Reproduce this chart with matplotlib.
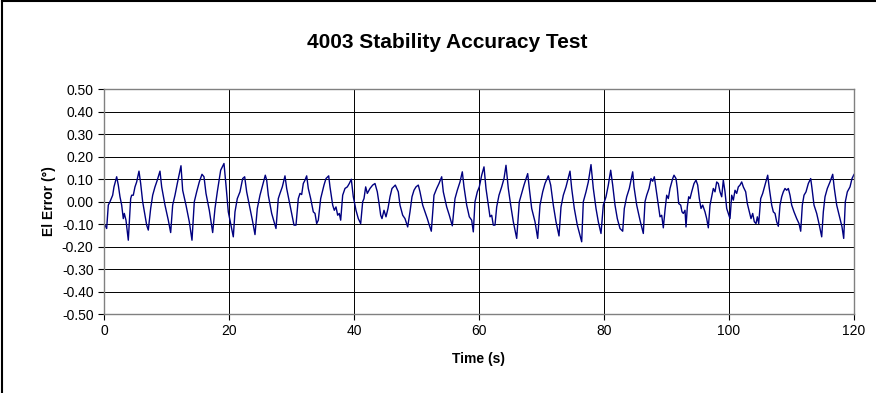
import matplotlib
matplotlib.use("Agg")
import matplotlib.pyplot as plt
from matplotlib.lines import Line2D

plt.rc("font", family=["Liberation Sans", "DejaVu Sans"])

# time (s) and elevation error (deg)
time = [0.00, 0.16, 0.43, 0.69, 0.96, 1.39, 1.60, 2.03, 2.29, 2.56, 2.83, 3.09, 3.25, 3.52, 3.89,
        4.27, 4.43, 4.69, 4.96, 5.23, 5.60, 5.87, 6.19, 6.56, 6.83, 7.09, 7.47, 7.79, 8.16, 8.53,
        8.96, 9.23, 9.76, 10.29, 10.67, 10.99, 11.36, 11.73, 12.32, 12.59, 13.12, 13.65, 14.08,
        14.45, 14.83, 15.25, 15.68, 16.00, 16.32, 16.85, 17.39, 17.76, 18.13, 18.67, 19.20, 19.52,
        19.89, 20.27, 20.69, 20.96, 21.33, 21.76, 22.19, 22.51, 22.83, 23.36, 23.79, 24.16, 24.53,
        24.96, 25.39, 25.81, 26.03, 26.29, 26.83, 27.52, 27.89, 28.16, 28.53, 28.96, 29.23, 29.76,
        30.40, 30.72, 31.09, 31.36, 31.63, 31.89, 32.16, 32.43, 32.69, 33.07, 33.49, 33.76, 34.03,
        34.29, 34.67, 34.93, 35.20, 35.52, 35.95, 36.16, 36.59, 36.85, 37.12, 37.39, 37.65, 37.87,
        38.19, 38.56, 38.93, 39.25, 39.57, 39.89, 40.32, 40.69, 41.07, 41.39, 41.60, 41.87, 42.13,
        42.56, 42.99, 43.36, 43.73, 44.05, 44.27, 44.48, 44.80, 45.12, 45.44, 45.76, 46.08, 46.61,
        47.09, 47.36, 47.79, 48.16, 48.59, 48.96, 49.28, 49.60, 49.92, 50.29, 50.56, 50.99, 51.36,
        51.73, 52.05, 52.37, 52.80, 53.23, 53.60, 54.03, 54.29, 54.83, 55.25, 55.73, 56.16, 56.53,
        56.96, 57.33, 57.60, 58.03, 58.45, 58.83, 59.09, 59.36, 59.73, 60.05, 60.43, 60.80, 61.12,
        61.49, 61.76, 62.03, 62.29, 62.56, 62.83, 63.20, 63.63, 64.00, 64.32, 64.69, 65.07, 65.49,
        66.03, 66.45, 66.83, 67.20, 67.79, 68.05, 68.43, 68.96, 69.39, 69.76, 70.19, 70.56, 71.09,
        71.47, 71.89, 72.32, 72.80, 73.12, 73.49, 73.92, 74.56, 74.83, 75.25, 75.73, 76.43, 76.69,
        77.12, 77.49, 77.92, 78.29, 78.72, 79.09, 79.52, 79.89, 80.32, 80.69, 81.07, 81.39, 81.76,
        82.13, 82.56, 82.99, 83.25, 83.63, 84.05, 84.59, 84.80, 85.23, 85.76, 86.29, 86.56, 86.83,
        87.20, 87.52, 87.79, 88.05, 88.32, 88.69, 88.96, 89.23, 89.49, 89.76, 90.03, 90.29, 90.56,
        90.99, 91.20, 91.52, 91.73, 91.95, 92.27, 92.48, 92.69, 92.96, 93.12, 93.33, 93.55, 93.76,
        94.03, 94.40, 94.72, 94.99, 95.25, 95.52, 95.79, 96.16, 96.43, 96.69, 96.96, 97.23, 97.49,
        97.76, 98.03, 98.29, 98.56, 98.83, 99.09, 99.36, 99.63, 99.89, 100.16, 100.43, 100.69,
        100.96, 101.23, 101.49, 101.76, 102.03, 102.29, 102.67, 102.93, 103.25, 103.52, 103.79,
        104.05, 104.32, 104.53, 104.75, 105.07, 105.39, 105.76, 106.19, 106.45, 106.83, 107.09,
        107.36, 107.63, 107.89, 108.16, 108.43, 108.69, 108.96, 109.23, 109.49, 109.76, 110.03,
        110.40, 110.83, 111.20, 111.47, 111.73, 112.00, 112.32, 112.69, 113.07, 113.28, 113.60,
        114.03, 114.45, 114.83, 115.09, 115.36, 115.73, 116.16, 116.59, 116.85, 117.23, 117.55,
        117.87, 118.08, 118.35, 118.61, 118.93, 119.36, 119.68, 120.00]

el_error = [-0.100, -0.105, -0.120, -0.016, -0.001, 0.028, 0.065, 0.110, 0.073, 0.021, -0.016, -0.076, -0.053, -0.083, -0.172,
            0.013, 0.028, 0.028, 0.065, 0.087, 0.135, 0.080, -0.001, -0.061, -0.105, -0.127, -0.031, 0.028, 0.065, 0.095,
            0.135, 0.065, -0.016, -0.083, -0.138, -0.016, 0.028, 0.080, 0.159, 0.050, -0.016, -0.090, -0.172,
            -0.001, 0.043, 0.087, 0.121, 0.110, 0.036, -0.039, -0.138, -0.031, 0.043, 0.139, 0.169, 0.073,
            -0.046, -0.098, -0.157, -0.046, 0.013, 0.043, 0.102, 0.110, 0.043, -0.031, -0.090, -0.147, -0.031,
            0.028, 0.073, 0.117, 0.095, 0.028, -0.053, -0.120, 0.013, 0.036, 0.065, 0.114, 0.058, -0.016,
            -0.105, -0.105, 0.013, 0.036, 0.031, 0.080, 0.095, 0.114, 0.058, 0.013, -0.046, -0.053, -0.098,
            -0.083, 0.013, 0.043, 0.073, 0.102, 0.114, 0.065, -0.016, -0.039, -0.024, -0.061, -0.053, -0.083,
            0.028, 0.058, 0.065, 0.080, 0.099, 0.021, -0.039, -0.076, -0.098, -0.001, 0.013, 0.065, 0.036,
            0.058, 0.073, 0.080, 0.043, -0.016, -0.061, -0.076, -0.039, -0.068, -0.031, 0.021, 0.058, 0.073,
            0.043, -0.016, -0.061, -0.076, -0.113, -0.046, 0.021, 0.050, 0.065, 0.073, 0.043, -0.016, -0.046,
            -0.076, -0.105, -0.132, 0.028, 0.058, 0.080, 0.110, 0.043, -0.024, -0.061, -0.108, 0.013, 0.050,
            0.087, 0.132, 0.065, -0.016, -0.068, -0.083, -0.135, -0.001, 0.043, 0.065, 0.117, 0.154, 0.058,
            -0.016, -0.068, -0.061, -0.105, -0.105, -0.024, 0.028, 0.065, 0.102, 0.161, 0.058, -0.016, -0.090,
            -0.164, -0.001, 0.036, 0.073, 0.124, 0.058, -0.031, -0.090, -0.164, -0.016, 0.043, 0.080, 0.114,
            0.073, -0.016, -0.090, -0.153, -0.024, 0.028, 0.065, 0.135, 0.058, -0.031, -0.105, -0.179, -0.001,
            0.043, 0.087, 0.164, 0.058, -0.031, -0.090, -0.142, -0.016, 0.021, 0.073, 0.139, 0.073, -0.016,
            -0.076, -0.120, -0.132, -0.031, 0.021, 0.058, 0.132, 0.065, -0.016, -0.083, -0.142, -0.001, 0.028,
            0.058, 0.102, 0.090, 0.110, 0.058, -0.016, -0.068, -0.061, -0.117, -0.039, 0.028, 0.013, 0.058,
            0.102, 0.117, 0.102, 0.058, -0.009, -0.016, -0.046, -0.053, -0.039, -0.113, -0.024, 0.021, 0.013,
            0.043, 0.080, 0.095, 0.073, 0.013, -0.031, -0.016, -0.046, -0.076, -0.117, -0.016, 0.021, 0.058,
            0.043, 0.087, 0.080, 0.043, 0.021, 0.095, 0.043, -0.031, -0.053, -0.076, 0.028, 0.006,
            0.050, 0.036, 0.065, 0.073, 0.087, 0.065, 0.043, -0.009, -0.046, -0.076, -0.053,
            -0.090, -0.098, -0.068, -0.098, 0.013, 0.036, 0.073, 0.117, 0.058, -0.016, -0.046,
            -0.053, -0.090, -0.110, -0.016, 0.021, 0.043, 0.058, 0.050, 0.058, 0.028, -0.016,
            -0.046, -0.076, -0.098, -0.132, -0.016, 0.028, 0.043, 0.080, 0.102, 0.058, -0.016,
            -0.053, -0.105, -0.157, -0.046, 0.021, 0.058, 0.087, 0.121, 0.058, -0.016, -0.053,
            -0.090, -0.113, -0.164, -0.001, 0.043, 0.065, 0.102, 0.120]

x_ticks = [0, 20, 40, 60, 80, 100, 120]
y_ticks = [-0.5, -0.4, -0.3, -0.2, -0.1, 0.0, 0.1, 0.2, 0.3, 0.4, 0.5]

fig = plt.figure(figsize=(8.76, 3.93), dpi=100)
ax = fig.add_axes([0.1187, 0.2010, 0.8562, 0.5725])

ax.plot(time, el_error, color="#000080", lw=1.0)

ax.set_xlim(0, 120)
ax.set_ylim(-0.5, 0.5)
ax.set_xticks(x_ticks)
ax.set_yticks(y_ticks)
ax.set_yticklabels(["%.2f" % v for v in y_ticks])
ax.grid(True, color="black", lw=0.7)
ax.set_axisbelow(True)
for s in ax.spines.values():
    s.set_color("#808080")
    s.set_linewidth(1.0)
ax.tick_params(labelsize=10, length=4, width=0.8, color="black", direction="out")

# chart title is centred over the whole chart area, not just the plot
fig.text(0.51, 0.893, "4003 Stability Accuracy Test", fontsize=15, fontweight="bold",
         ha="center", va="center")
ax.set_xlabel("Time (s)", fontsize=10, fontweight="bold", labelpad=10)
ax.set_ylabel("El Error (°)", fontsize=10, fontweight="bold", labelpad=4)

# outer chart frame (left and top edges visible in the reference)
fig.add_artist(Line2D([0.002, 0.002], [0, 0.998], transform=fig.transFigure, color="black", lw=1.5))
fig.add_artist(Line2D([0.002, 1], [0.998, 0.998], transform=fig.transFigure, color="black", lw=1.5))

fig.savefig("out.png", dpi=100)
